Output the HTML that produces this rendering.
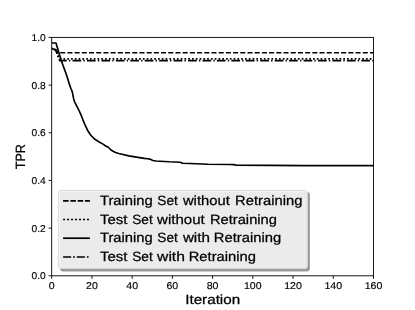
<!DOCTYPE html>
<html><head><meta charset="utf-8"><title>TPR vs Iteration</title>
<style>html,body{margin:0;padding:0;background:#fff;}body{width:415px;height:310px;overflow:hidden;}svg{display:block;will-change:transform;filter:grayscale(1);}text{font-family:"Liberation Sans",sans-serif;fill:#000;text-rendering:geometricPrecision;stroke:#000;stroke-width:0.25px;}</style>
</head><body>
<svg width="415" height="310" viewBox="0 0 415 310">
<rect x="0" y="0" width="415" height="310" fill="#ffffff"/>
<defs><clipPath id="pc"><rect x="51.7" y="37.4" width="321.8" height="238.4"/></clipPath></defs>
<g clip-path="url(#pc)" fill="none" stroke="#000" stroke-linejoin="round">
<path d="M51.7,48.5 L55.7,49.9 L57.7,52.7 L373.5,52.7" stroke-width="1.65" stroke-dasharray="5.03 2.174" stroke-dashoffset="4.232"/>
<path d="M51.7,48.5 L55.7,49.9 L57.7,54.6 L59.7,58.9 L373.5,58.9" stroke-width="1.85" stroke-dasharray="1.7 2.0815" stroke-dashoffset="1.046"/>
<path d="M51.7,48.5 L55.7,49.9 L57.7,55.6 L59.7,60.65 L373.5,60.65" stroke-width="1.65" stroke-dasharray="8.7 2.17 1.4 2.17" stroke-dashoffset="0.35"/>
<path d="M51.7,43.0 L56.0,43.0 L58.5,51.5 L61.1,60.0 L63.5,66.8 L65.9,73.2 L67.5,78.1 L69.1,83.4 L70.8,88.2 L72.3,91.9 L73.0,95.6 L73.7,98.9 L74.6,101.8 L76.8,106.2 L79.2,110.9 L80.9,114.6 L82.3,118.3 L84.8,124.4 L87.5,130.2 L90.6,135.0 L94.9,139.3 L99.2,142.0 L103.4,144.4 L106.0,146.2 L108.1,147.1 L109.5,148.5 L111.5,150.3 L113.5,151.5 L115.6,152.5 L118.7,153.5 L122.0,154.3 L128.9,155.9 L137.9,157.4 L144.3,158.4 L147.8,158.8 L149.7,159.1 L152.9,160.5 L156.0,161.0 L159.8,161.2 L169.4,161.8 L180.1,162.2 L182.7,163.2 L190.0,163.5 L207.8,164.2 L229.6,164.5 L234.0,164.6 L236.5,165.2 L270.0,165.4 L305.0,165.6 L373.5,165.6" stroke-width="1.65"/>
</g>
<defs><clipPath id="lc"><rect x="58.4" y="190.5" width="249.00" height="78.00" rx="2.6" ry="2.6"/></clipPath></defs>
<rect x="60.1" y="192.1" width="249.80" height="79.30" rx="3" ry="3" fill="#9a9a9a"/>
<rect x="58.4" y="190.5" width="249.00" height="78.00" rx="2.6" ry="2.6" fill="#f5f5f5"/>
<rect x="60.1" y="192.1" width="249.80" height="79.30" rx="3" ry="3" fill="#ebebeb" clip-path="url(#lc)"/>
<rect x="58.4" y="190.5" width="249.00" height="78.00" rx="2.6" ry="2.6" fill="none" stroke="#d4d4d4" stroke-width="0.9"/>
<path d="M63.1,200.85 L89.9,200.85" fill="none" stroke="#000" stroke-width="1.70" stroke-dasharray="5.5 1.8"/>
<path d="M63.1,219.5 L89.9,219.5" fill="none" stroke="#000" stroke-width="1.70" stroke-dasharray="2.0 1.98"/>
<path d="M63.1,238.2 L89.9,238.2" fill="none" stroke="#000" stroke-width="1.70"/>
<path d="M63.1,257.0 L89.9,257.0" fill="none" stroke="#000" stroke-width="1.70" stroke-dasharray="8.1 1.9 1.8 1.9"/>
<text x="99.92" y="205.0" font-size="13.4" textLength="52.83" lengthAdjust="spacingAndGlyphs">Training</text>
<text x="157.33" y="205.0" font-size="13.4" textLength="20.54" lengthAdjust="spacingAndGlyphs">Set</text>
<text x="182.93" y="205.0" font-size="13.4" textLength="46.89" lengthAdjust="spacingAndGlyphs">without</text>
<text x="235.13" y="205.0" font-size="13.4" textLength="67.37" lengthAdjust="spacingAndGlyphs">Retraining</text>
<text x="99.92" y="223.6" font-size="13.4" textLength="27.53" lengthAdjust="spacingAndGlyphs">Test</text>
<text x="132.25" y="223.6" font-size="13.4" textLength="20.54" lengthAdjust="spacingAndGlyphs">Set</text>
<text x="157.11" y="223.6" font-size="13.4" textLength="47.63" lengthAdjust="spacingAndGlyphs">without</text>
<text x="209.94" y="223.6" font-size="13.4" textLength="66.99" lengthAdjust="spacingAndGlyphs">Retraining</text>
<text x="99.92" y="242.3" font-size="13.4" textLength="52.83" lengthAdjust="spacingAndGlyphs">Training</text>
<text x="157.33" y="242.3" font-size="13.4" textLength="20.54" lengthAdjust="spacingAndGlyphs">Set</text>
<text x="182.92" y="242.3" font-size="13.4" textLength="27.01" lengthAdjust="spacingAndGlyphs">with</text>
<text x="213.87" y="242.3" font-size="13.4" textLength="67.35" lengthAdjust="spacingAndGlyphs">Retraining</text>
<text x="99.92" y="260.8" font-size="13.4" textLength="27.53" lengthAdjust="spacingAndGlyphs">Test</text>
<text x="132.25" y="260.8" font-size="13.4" textLength="20.54" lengthAdjust="spacingAndGlyphs">Set</text>
<text x="157.08" y="260.8" font-size="13.4" textLength="27.86" lengthAdjust="spacingAndGlyphs">with</text>
<text x="188.70" y="260.8" font-size="13.4" textLength="67.23" lengthAdjust="spacingAndGlyphs">Retraining</text>
<rect x="51.7" y="37.4" width="321.8" height="238.4" fill="none" stroke="#000" stroke-width="0.9"/>
<path d="M51.70,275.8 L51.70,278.90000000000003" stroke="#000" stroke-width="0.9" fill="none"/>
<text x="51.70" y="289.3" font-size="9.9" style="stroke-width:0.15px" text-anchor="middle" textLength="5.9" lengthAdjust="spacingAndGlyphs">0</text>
<path d="M91.93,275.8 L91.93,278.90000000000003" stroke="#000" stroke-width="0.9" fill="none"/>
<text x="91.93" y="289.3" font-size="9.9" style="stroke-width:0.15px" text-anchor="middle" textLength="11.8" lengthAdjust="spacingAndGlyphs">20</text>
<path d="M132.15,275.8 L132.15,278.90000000000003" stroke="#000" stroke-width="0.9" fill="none"/>
<text x="132.15" y="289.3" font-size="9.9" style="stroke-width:0.15px" text-anchor="middle" textLength="11.8" lengthAdjust="spacingAndGlyphs">40</text>
<path d="M172.38,275.8 L172.38,278.90000000000003" stroke="#000" stroke-width="0.9" fill="none"/>
<text x="172.38" y="289.3" font-size="9.9" style="stroke-width:0.15px" text-anchor="middle" textLength="11.8" lengthAdjust="spacingAndGlyphs">60</text>
<path d="M212.60,275.8 L212.60,278.90000000000003" stroke="#000" stroke-width="0.9" fill="none"/>
<text x="212.60" y="289.3" font-size="9.9" style="stroke-width:0.15px" text-anchor="middle" textLength="11.8" lengthAdjust="spacingAndGlyphs">80</text>
<path d="M252.82,275.8 L252.82,278.90000000000003" stroke="#000" stroke-width="0.9" fill="none"/>
<text x="252.82" y="289.3" font-size="9.9" style="stroke-width:0.15px" text-anchor="middle" textLength="17.7" lengthAdjust="spacingAndGlyphs">100</text>
<path d="M293.05,275.8 L293.05,278.90000000000003" stroke="#000" stroke-width="0.9" fill="none"/>
<text x="293.05" y="289.3" font-size="9.9" style="stroke-width:0.15px" text-anchor="middle" textLength="17.7" lengthAdjust="spacingAndGlyphs">120</text>
<path d="M333.27,275.8 L333.27,278.90000000000003" stroke="#000" stroke-width="0.9" fill="none"/>
<text x="333.27" y="289.3" font-size="9.9" style="stroke-width:0.15px" text-anchor="middle" textLength="17.7" lengthAdjust="spacingAndGlyphs">140</text>
<path d="M373.50,275.8 L373.50,278.90000000000003" stroke="#000" stroke-width="0.9" fill="none"/>
<text x="373.50" y="289.3" font-size="9.9" style="stroke-width:0.15px" text-anchor="middle" textLength="17.7" lengthAdjust="spacingAndGlyphs">160</text>
<path d="M51.7,275.80 L48.6,275.80" stroke="#000" stroke-width="0.9" fill="none"/>
<text x="45.7" y="279.25" font-size="9.9" style="stroke-width:0.15px" text-anchor="end" textLength="14.2" lengthAdjust="spacingAndGlyphs">0.0</text>
<path d="M51.7,228.12 L48.6,228.12" stroke="#000" stroke-width="0.9" fill="none"/>
<text x="45.7" y="231.57" font-size="9.9" style="stroke-width:0.15px" text-anchor="end" textLength="14.2" lengthAdjust="spacingAndGlyphs">0.2</text>
<path d="M51.7,180.44 L48.6,180.44" stroke="#000" stroke-width="0.9" fill="none"/>
<text x="45.7" y="183.89" font-size="9.9" style="stroke-width:0.15px" text-anchor="end" textLength="14.2" lengthAdjust="spacingAndGlyphs">0.4</text>
<path d="M51.7,132.76 L48.6,132.76" stroke="#000" stroke-width="0.9" fill="none"/>
<text x="45.7" y="136.21" font-size="9.9" style="stroke-width:0.15px" text-anchor="end" textLength="14.2" lengthAdjust="spacingAndGlyphs">0.6</text>
<path d="M51.7,85.08 L48.6,85.08" stroke="#000" stroke-width="0.9" fill="none"/>
<text x="45.7" y="88.53" font-size="9.9" style="stroke-width:0.15px" text-anchor="end" textLength="14.2" lengthAdjust="spacingAndGlyphs">0.8</text>
<path d="M51.7,37.40 L48.6,37.40" stroke="#000" stroke-width="0.9" fill="none"/>
<text x="45.7" y="40.85" font-size="9.9" style="stroke-width:0.15px" text-anchor="end" textLength="14.2" lengthAdjust="spacingAndGlyphs">1.0</text>
<text x="212.7" y="303.9" font-size="13.4" text-anchor="middle" textLength="55" lengthAdjust="spacingAndGlyphs">Iteration</text>
<text transform="translate(24.8,156.7) rotate(-90)" font-size="13.4" text-anchor="middle" textLength="25.2" lengthAdjust="spacingAndGlyphs">TPR</text>
</svg>
</body></html>
